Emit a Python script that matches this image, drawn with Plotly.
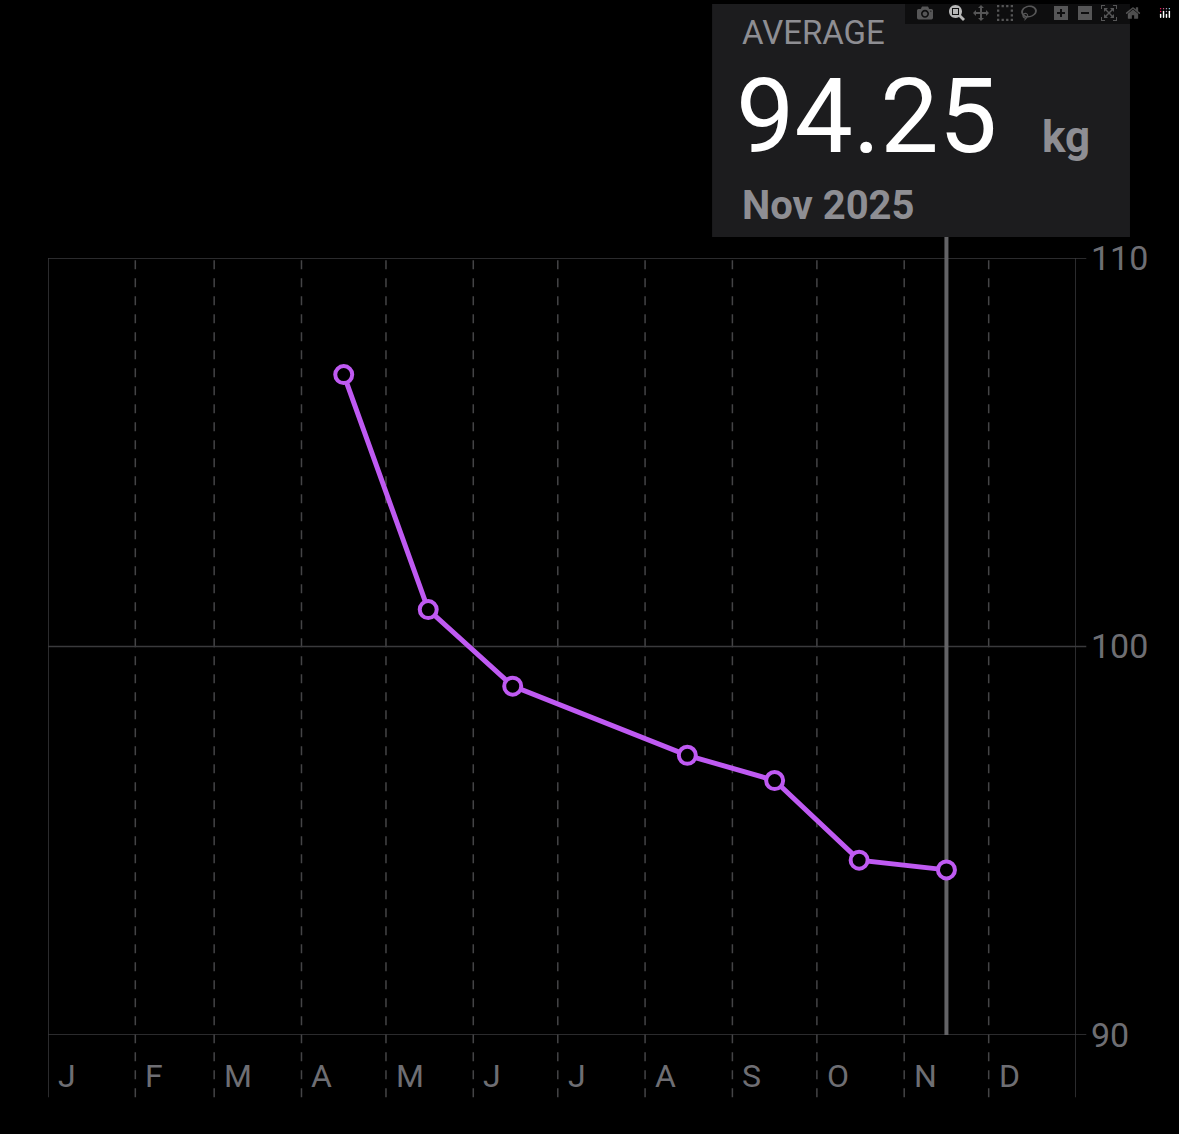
import plotly.graph_objects as go

dates = ["2025-04-16", "2025-05-16", "2025-06-15", "2025-08-16", "2025-09-16", "2025-10-16", "2025-11-16"]
weights = [107.0, 100.95, 98.98, 97.2, 96.55, 94.5, 94.25]
month_starts = ["2025-%02d-01" % m for m in range(1, 13)] + ["2026-01-01"]
month_labels = ["J", "F", "M", "A", "M", "J", "J", "A", "S", "O", "N", "D"]
y_ticks = [90, 100, 110]

purple = "#bf5af2"
grid = "#3a3a3c"
gray = "#8e8e93"

fig = go.Figure(go.Scatter(
    x=dates, y=weights, mode="lines+markers",
    line=dict(color=purple, width=5),
    marker=dict(size=17, color="black", line=dict(color=purple, width=4)),
))

shapes = []
for i, d in enumerate(month_starts):
    solid = i == 0 or i == len(month_starts) - 1
    shapes.append(dict(type="line", xref="x", yref="paper", x0=d, x1=d, y0=-0.08, y1=1,
                       line=dict(color=grid if solid else "#444446", width=1.5, dash="solid" if solid else "dash"),
                       layer="below"))
for t in y_ticks:
    shapes.append(dict(type="line", xref="paper", yref="y", x0=0, x1=1.01, y0=t, y1=t,
                       line=dict(color=grid, width=1.5), layer="below"))
shapes.append(dict(type="line", xref="x", yref="paper", x0=dates[-1], x1=dates[-1], y0=0, y1=1.03,
                   line=dict(color="#636366", width=4), layer="below"))
shapes.append(dict(type="rect", xref="paper", yref="paper", x0=0.646, x1=1.0525, y0=1.027, y1=1.327,
                   fillcolor="#1c1c1e", line=dict(width=0), layer="below"))

ann = []
for d, lab in zip(month_starts[:-1], month_labels):
    ann.append(dict(x=d, y=-0.053, xref="x", yref="paper", text=lab, showarrow=False,
                    xanchor="left", yanchor="middle", xshift=8,
                    font=dict(size=32, color="#6e6e73", family="Roboto")))
def px(x): return (x - 48) / 1028
def py(y): return (1035 - y) / 777
ann += [
    dict(x=px(740), y=py(33), text="AVERAGE", font=dict(size=33, color=gray, family="Roboto")),
    dict(x=px(734), y=py(116), text="94.25", font=dict(size=104, color="white", family="Roboto")),
    dict(x=px(1040), y=py(137), text="<b>kg</b>", font=dict(size=44, color=gray, family="Roboto")),
    dict(x=px(740), y=py(205), text="<b>Nov 2025</b>", font=dict(size=40, color=gray, family="Roboto")),
]
for a in ann[-4:]:
    a.update(xref="paper", yref="paper", showarrow=False, xanchor="left", yanchor="middle")

fig.update_layout(
    width=1179, height=1134, paper_bgcolor="black", plot_bgcolor="black",
    margin=dict(l=48, r=103, t=258, b=99), showlegend=False,
    shapes=shapes, annotations=ann,
    xaxis=dict(type="date", range=["2025-01-01", "2026-01-01"], showgrid=False, showticklabels=False,
               zeroline=False),
    yaxis=dict(range=[90, 110], side="right", tickvals=y_ticks, showgrid=False, zeroline=False,
               tickfont=dict(size=34, color="#6e6e73", family="Roboto"), ticklabelstandoff=14),
)
fig.write_html("out.html",
               post_script="document.body.style.margin='0';document.body.style.background='black';")
